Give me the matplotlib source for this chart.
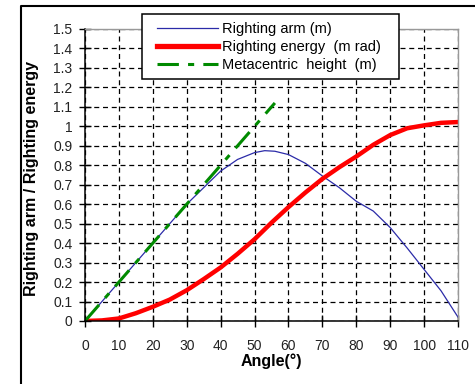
import matplotlib
matplotlib.use("Agg")
import matplotlib.pyplot as plt
from matplotlib.patches import Rectangle
from matplotlib.lines import Line2D

plt.rcParams['font.family'] = ['Liberation Sans', 'DejaVu Sans']

# righting arm (m)
arm_angle = [0, 10, 20, 30, 40, 45, 50, 53, 56, 60, 65, 70, 75, 80, 85, 90, 95, 100, 105, 110]
arm_value = [0, 0.2, 0.4, 0.6, 0.77, 0.83, 0.865, 0.875, 0.872, 0.855, 0.81, 0.745, 0.685, 0.615, 0.565, 0.48, 0.375, 0.265, 0.155, 0.02]

# righting energy (m rad)
energy_angle = [0, 5, 10, 15, 20, 25, 30, 35, 40, 45, 50, 55, 60, 65, 70, 75, 80, 85, 90, 95, 100, 105, 110]
energy_value = [0, 0.003, 0.013, 0.04, 0.073, 0.11, 0.158, 0.215, 0.275, 0.345, 0.42, 0.505, 0.585, 0.66, 0.73, 0.79, 0.845, 0.905, 0.955, 0.99, 1.005, 1.018, 1.022]

# metacentric height (m)
gm_angle = [0, 56]
gm_value = [0, 1.12]

W, H = 475, 384
fig = plt.figure(figsize=(W / 100, H / 100), dpi=100)

def fx(px):
    return px / W

def fy(py):
    return 1 - py / H

# outer frame of the chart area (only top and left are inside the picture)
fig.lines.append(Line2D([fx(21), fx(21), 1.0], [0.0, fy(6), fy(6)], transform=fig.transFigure,
                        color='black', linewidth=1.5))

ax = fig.add_axes([fx(85), fy(321), fx(458) - fx(85), fy(29) - fy(321)])

l1, = ax.plot(arm_angle, arm_value, color='#2b2ba8', linewidth=0.9, label='Righting arm (m)')
l2, = ax.plot(energy_angle, energy_value, color='#ff0000', linewidth=3.2, label='Righting energy  (m rad)')
l3, = ax.plot(gm_angle, gm_value, color='#008a00', linewidth=2.2, dashes=(7, 3, 2, 3),
              label='Metacentric  height  (m)')

ax.set_xlim(0, 110)
ax.set_ylim(0, 1.5)
ax.set_xticks(range(0, 111, 10))
ax.set_yticks([i / 10 for i in range(16)])
ax.set_yticklabels(['0' if i == 0 else ('1' if i == 10 else f'{i / 10:g}') for i in range(16)])

ax.grid(True, color='black', linestyle=(0, (4, 3)), linewidth=0.9)
ax.set_axisbelow(True)
ax.tick_params(direction='inout', length=8, width=1, labelsize=10, colors='black')
ax.tick_params(axis='x', pad=9, labelcolor='#222222')
ax.tick_params(axis='y', pad=5, labelcolor='#222222')

for s in ['left', 'bottom']:
    ax.spines[s].set_color('black')
    ax.spines[s].set_linewidth(1.1)
for s in ['top', 'right']:
    ax.spines[s].set_color('#999999')
    ax.spines[s].set_linewidth(1.0)

ax.set_xlabel('Angle(°)', fontsize=11.5, fontweight='bold', labelpad=0)
fig.text(fx(32), fy(178), 'Righting arm / Righting energy', fontsize=11.5, fontweight='bold',
         rotation=90, ha='center', va='center')

# legend box drawn by hand so it can hang over the plot top
fig.patches.append(Rectangle((fx(142), fy(79)), fx(399) - fx(142), fy(14) - fy(79),
                             transform=fig.transFigure, facecolor='white', edgecolor='black',
                             linewidth=1.1, zorder=5))
leg = fig.legend(handles=[l1, l2, l3], loc='upper left', bbox_to_anchor=(fx(157), fy(22)),
                 fontsize=10.5, frameon=False, handlelength=4.2, handletextpad=0.25,
                 borderpad=0, labelspacing=0.27, borderaxespad=0)
leg.set_zorder(6)
leg.legend_handles[1].set_linewidth(3.8)

fig.savefig('out.png', dpi=100)
